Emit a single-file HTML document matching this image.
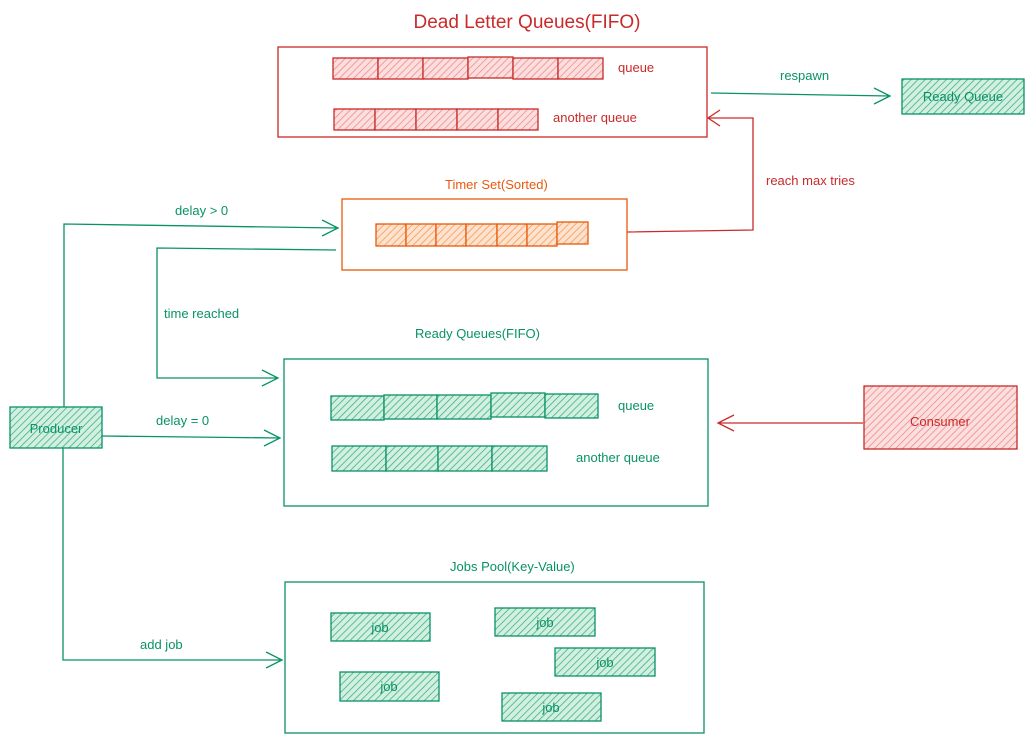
<!DOCTYPE html>
<html><head><meta charset="utf-8"><style>
body{margin:0;background:#fff}
svg text{font-family:"Liberation Sans",sans-serif;}
</style></head><body>
<svg width="1034" height="742" viewBox="0 0 1034 742" xmlns="http://www.w3.org/2000/svg">
<defs>
<pattern id="hr" width="5" height="5" patternUnits="userSpaceOnUse" patternTransform="rotate(45)"><rect width="5" height="5" fill="#fbdede"/><line x1="0" y1="0" x2="0" y2="5" stroke="#f08c8c" stroke-width="1.6"/></pattern>
<pattern id="hg" width="5" height="5" patternUnits="userSpaceOnUse" patternTransform="rotate(45)"><rect width="5" height="5" fill="#d3efe2"/><line x1="0" y1="0" x2="0" y2="5" stroke="#3cb37f" stroke-width="1.6"/></pattern>
<pattern id="ho" width="5" height="5" patternUnits="userSpaceOnUse" patternTransform="rotate(45)"><rect width="5" height="5" fill="#fde3cf"/><line x1="0" y1="0" x2="0" y2="5" stroke="#f59b55" stroke-width="1.6"/></pattern>
</defs>
<g fill="none" stroke-width="1.3">
<!-- DLQ -->
<rect x="278" y="47" width="429" height="90" stroke="#c92a2a"/>
<g stroke="#c92a2a" fill="url(#hr)">
<rect x="333" y="58" width="45" height="21"/><rect x="378" y="58" width="45" height="21"/><rect x="423" y="58" width="45" height="21"/><rect x="468" y="57" width="45" height="21"/><rect x="513" y="58" width="45" height="21"/><rect x="558" y="58" width="45" height="21"/>
<rect x="334" y="109" width="41" height="21"/><rect x="375" y="109" width="41" height="21"/><rect x="416" y="109" width="41" height="21"/><rect x="457" y="109" width="41" height="21"/><rect x="498" y="109" width="40" height="21"/>
</g>
<!-- respawn -->
<path d="M711 93 L890 96 M874 88 L890 96 L874 104" stroke="#099268"/>
<rect x="902" y="79" width="122" height="35" stroke="#099268" fill="url(#hg)"/>
<!-- reach max -->
<path d="M627 232 L753 230 L753 118 L708 118 M720 110 L708 118 L720 126" stroke="#c92a2a"/>
<!-- Timer -->
<rect x="342" y="199" width="285" height="71" stroke="#e8590c"/>
<g stroke="#e8590c" fill="url(#ho)">
<rect x="376" y="224" width="30" height="22"/><rect x="406" y="224" width="30" height="22"/><rect x="436" y="224" width="30" height="22"/><rect x="466" y="224" width="31" height="22"/><rect x="497" y="224" width="30" height="22"/><rect x="527" y="224" width="30" height="22"/><rect x="557" y="222" width="31" height="22"/>
</g>
<!-- producer lines -->
<g stroke="#099268">
<path d="M64 407 L64 224 L338 228 M322 220 L338 228 L322 236"/>
<path d="M336 250 L157 248 L157 378 L278 378 M262 370 L278 378 L262 386"/>
<path d="M102 436 L280 438 M264 430 L280 438 L264 446"/>
<path d="M63 448 L63 660 L282 660 M266 652 L282 660 L266 668"/>
<rect x="10" y="407" width="92" height="41" fill="url(#hg)"/>
<!-- Ready -->
<rect x="284" y="359" width="424" height="147"/>
<g fill="url(#hg)">
<rect x="331" y="396" width="53" height="24"/><rect x="384" y="395" width="53" height="24"/><rect x="437" y="395" width="54" height="24"/><rect x="491" y="393" width="54" height="24"/><rect x="545" y="394" width="53" height="24"/>
<rect x="332" y="446" width="54" height="25"/><rect x="386" y="446" width="52" height="25"/><rect x="438" y="446" width="54" height="25"/><rect x="492" y="446" width="55" height="25"/>
</g>
<!-- Jobs -->
<rect x="285" y="582" width="419" height="151"/>
<g fill="url(#hg)">
<rect x="331" y="613" width="99" height="28"/><rect x="495" y="608" width="100" height="28"/><rect x="555" y="648" width="100" height="28"/><rect x="340" y="672" width="99" height="29"/><rect x="502" y="693" width="99" height="28"/>
</g>
</g>
<!-- consumer -->
<path d="M863 423 L718 423 M734 415 L718 423 L734 431" stroke="#c92a2a"/>
<rect x="864" y="386" width="153" height="63" stroke="#c92a2a" fill="url(#hr)"/>
</g>
<g font-size="13">
<text x="527" y="28" font-size="19" fill="#c92a2a" text-anchor="middle">Dead Letter Queues(FIFO)</text>
<text x="618" y="72" fill="#c92a2a">queue</text>
<text x="553" y="122" fill="#c92a2a">another queue</text>
<text x="780" y="80" fill="#099268">respawn</text>
<text x="963" y="101" fill="#099268" text-anchor="middle">Ready Queue</text>
<text x="766" y="185" fill="#c92a2a">reach max tries</text>
<text x="445" y="189" fill="#e8590c">Timer Set(Sorted)</text>
<text x="175" y="215" fill="#099268">delay &gt; 0</text>
<text x="164" y="318" fill="#099268">time reached</text>
<text x="415" y="338" fill="#099268">Ready Queues(FIFO)</text>
<text x="618" y="410" fill="#099268">queue</text>
<text x="576" y="462" fill="#099268">another queue</text>
<text x="156" y="425" fill="#099268">delay = 0</text>
<text x="56" y="433" fill="#099268" text-anchor="middle">Producer</text>
<text x="940" y="426" fill="#c92a2a" text-anchor="middle">Consumer</text>
<text x="450" y="571" fill="#099268">Jobs Pool(Key-Value)</text>
<text x="140" y="649" fill="#099268">add job</text>
<g fill="#099268" text-anchor="middle">
<text x="380" y="632">job</text><text x="545" y="627">job</text><text x="605" y="667">job</text><text x="389" y="691">job</text><text x="551" y="712">job</text>
</g>
</g>
</svg>
</body></html>
